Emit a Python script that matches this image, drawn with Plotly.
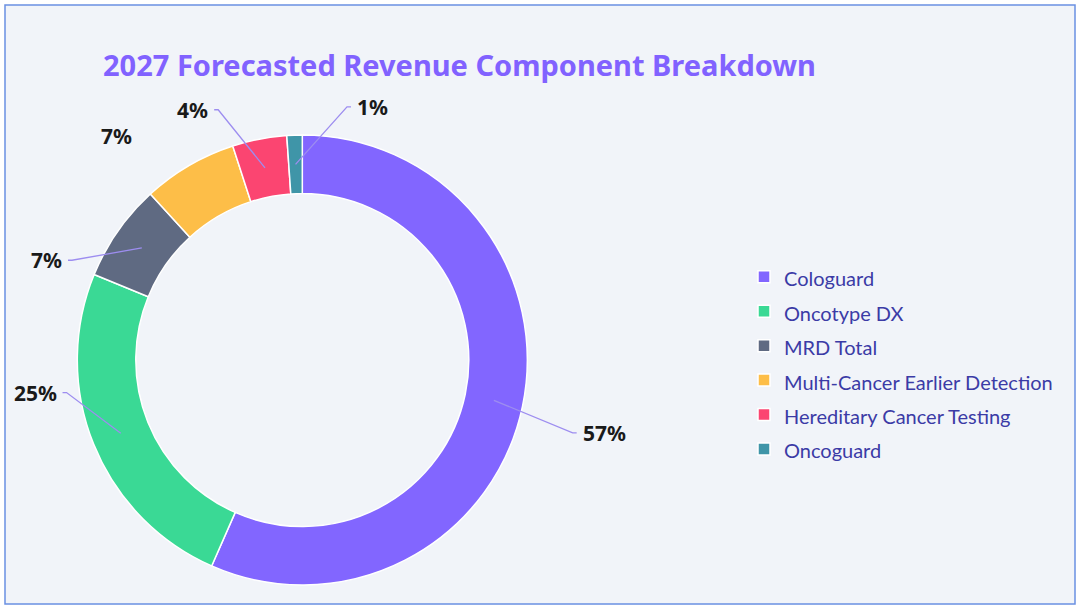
import math
import plotly.graph_objects as go

# ---- data ----
categories = ["Cologuard", "Oncotype DX", "MRD Total",
              "Multi-Cancer Earlier Detection", "Hereditary Cancer Testing", "Oncoguard"]
shares = [56.6, 24.6, 7.0, 6.8, 3.9, 1.1]
colors = ["#8266FF", "#3AD995", "#5F6A82", "#FDBE48", "#FB4571", "#3F95A8"]
title_text = "2027 Forecasted Revenue Component Breakdown"

# ---- label layout (style only) ----
label_angle_shift = [3.2, 14.1, -11.5, -5.3, -7.6, 12.0]   # degrees from slice middle
label_radius = [280, 238, 251, 275, 264, 257]              # elbow radius in px
label_line = [True, True, True, False, True, True]

W, H = 1080, 611
dom_x = [77.3 / W, 527.3 / W]
dom_y = [1 - 585 / H, 1 - 135 / H]
hole = 0.74

cx = (dom_x[0] + dom_x[1]) / 2 * W
cy = (1 - (dom_y[0] + dom_y[1]) / 2) * H
R = min((dom_x[1] - dom_x[0]) * W, (dom_y[1] - dom_y[0]) * H) / 2
r_mid = R * (1 + hole) / 2


def to_paper(px, py):
    return px / W, 1 - py / H


fig = go.Figure(go.Pie(
    labels=[f"<span style='font-size:20px'>{c}</span>" for c in categories],
    values=shares,
    sort=False,
    direction="clockwise",
    rotation=0,
    hole=hole,
    marker=dict(colors=colors, line=dict(color="white", width=1.5)),
    textinfo="none",
    domain=dict(x=dom_x, y=dom_y),
    hovertemplate="%{label}: %{percent}<extra></extra>",
))

total = sum(shares)
cum = 0.0
shapes = [dict(type="rect", xref="paper", yref="paper",
               x0=5 / W, x1=1075 / W, y0=1 - 604 / H, y1=1 - 5 / H,
               line=dict(color="#6A90E2", width=1.5), fillcolor="#F1F4F9", layer="below")]
annotations = []
for i, v in enumerate(shares):
    mid = (cum + v / 2) / total * 360.0
    cum += v
    pct = int(round(v / total * 100, 6) + 0.5)
    a0 = math.radians(mid)
    sx, sy = cx + r_mid * math.sin(a0), cy - r_mid * math.cos(a0)
    a1 = math.radians(mid + label_angle_shift[i])
    ex, ey = cx + label_radius[i] * math.sin(a1), cy - label_radius[i] * math.cos(a1)
    side = 1 if math.sin(a1) > 0 else -1
    hx = ex + side * 4
    if label_line[i]:
        p0, p1, p2 = to_paper(sx, sy), to_paper(ex, ey), to_paper(hx, ey)
        shapes.append(dict(type="path", xref="paper", yref="paper",
                           path=f"M {p0[0]},{p0[1]} L {p1[0]},{p1[1]} L {p2[0]},{p2[1]}",
                           line=dict(color="#9D8DF0", width=1.3)))
    tx, ty = to_paper(hx + side * 4, ey)
    annotations.append(dict(x=tx, y=ty, xref="paper", yref="paper",
                            text=f"<b>{pct}%</b>", showarrow=False,
                            xanchor="left" if side > 0 else "right", yanchor="middle",
                            font=dict(family="Noto Sans", size=21, color="#1A1A1A")))

fig.update_layout(
    width=W, height=H,
    margin=dict(l=0, r=0, t=0, b=0),
    paper_bgcolor="white",
    plot_bgcolor="rgba(0,0,0,0)",
    title=dict(text=f"<b>{title_text}</b>", x=103 / W, xref="container", xanchor="left",
               y=1 - 66 / H, yref="container", yanchor="middle",
               font=dict(family="Noto Sans", size=29, color="#8162FF")),
    legend=dict(x=744 / W, xanchor="left", y=1 - 363 / H, yanchor="middle",
                font=dict(family="Lato", size=24.2, color="#3B3BA6"),
                bgcolor="rgba(0,0,0,0)"),
    shapes=shapes,
    annotations=annotations,
    showlegend=True,
)

fig.write_html("out.html", config={"displayModeBar": False},
               post_script="document.body.style.margin='0';document.body.style.overflow='hidden';")
